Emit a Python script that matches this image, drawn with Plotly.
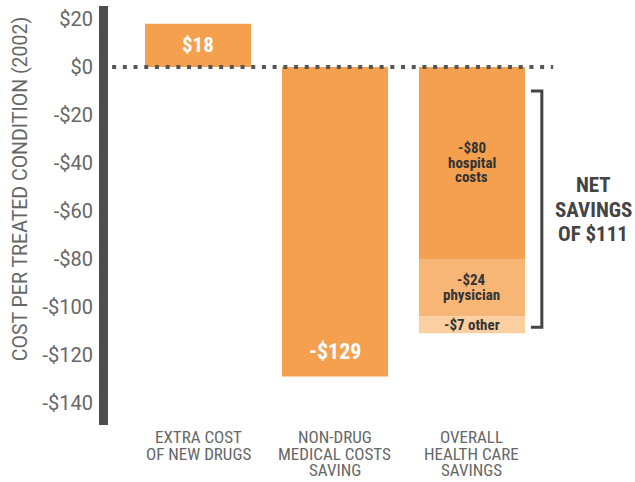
import plotly.graph_objects as go

# -----------------------------
# Data
# -----------------------------
categories = ["EXTRA COST OF NEW DRUGS",
              "NON-DRUG MEDICAL COSTS SAVING",
              "OVERALL HEALTH CARE SAVINGS"]
category_lines = [["EXTRA COST", "OF NEW DRUGS"],
                  ["NON-DRUG", "MEDICAL COSTS", "SAVING"],
                  ["OVERALL", "HEALTH CARE", "SAVINGS"]]
totals = [18, -129]
total_labels = ["$18", "-$129"]

parts = ["hospital", "physician", "other"]
part_values = [-80, -24, -7]
part_labels = [["-$80", "hospital", "costs"], ["-$24", "physician"], ["-$7 other"]]
part_colors = ["#F5A04F", "#F8B676", "#FBCF9F"]

tick_vals = [20, 0, -20, -40, -60, -80, -100, -120, -140]
tick_text = ["$20", "$0", "-$20", "-$40", "-$60", "-$80", "-$100", "-$120", "-$140"]

net_label = ["NET", "SAVINGS", "OF $111"]

NARROW = "Roboto Condensed, Liberation Sans Narrow, DejaVu Sans Condensed, sans-serif"
REGULAR = "Roboto, Liberation Sans, sans-serif"
ORANGE = "#F5A04F"
GREY = "#666666"
DARK = "#4d4d4d"

fig = go.Figure()

# main bars
fig.add_trace(go.Bar(
    x=categories[:2], y=totals,
    marker=dict(color=ORANGE, line=dict(width=0)),
    hoverinfo="skip"
))

# stacked breakdown
for name, val, col in zip(parts, part_values, part_colors):
    fig.add_trace(go.Bar(
        x=[categories[2]], y=[val], name=name,
        marker=dict(color=col, line=dict(width=0)),
        hoverinfo="skip"
    ))


def add_lines(x, y, lines, size, color, spacing, bold=True, yshift=0, yref="y"):
    # one annotation per line, so the line spacing can be as tight as the original
    n = len(lines)
    for i, t in enumerate(lines):
        off = ((n - 1) / 2 - i) * spacing
        fig.add_annotation(
            x=x, y=y, yref=yref, text=f"<b>{t}</b>" if bold else t,
            showarrow=False, yshift=off + yshift,
            xanchor="center", yanchor="middle",
            font=dict(family=NARROW, size=size, color=color)
        )


# labels on main bars
for cat, val, lab in zip(categories[:2], totals, total_labels):
    if val > 0:
        add_lines(cat, val / 2, [lab], 21, "white", 0)
    else:
        add_lines(cat, val, [lab], 22, "white", 0, yshift=25)

# labels on stacked segments
base = 0
for val, lab in zip(part_values, part_labels):
    add_lines(categories[2], base + val / 2, lab, 15, "#333333", 14.5)
    base += val

# category labels under the plot
for cat, lines in zip(categories, category_lines):
    n = len(lines)
    add_lines(cat, 0, lines, 17, GREY, 16.5, bold=False,
              yshift=-12 - (n - 1) * 16.5 / 2, yref="paper")

# net savings bracket and label
net = sum(part_values)
fig.add_shape(type="path", xref="x", yref="y",
              path=f"M 2.43 -10 L 2.51 -10 L 2.51 {net + 2.5} L 2.43 {net + 2.5}",
              line=dict(color="#444444", width=3))
add_lines(2.885, -59.6, net_label, 21, "#444444", 24.5)

# dotted zero line
fig.add_shape(type="line", xref="paper", yref="y", x0=0.008, x1=0.861, y0=0, y1=0,
              line=dict(color="#555555", width=4, dash="4px,6.7px"))

# axis title
fig.add_annotation(xref="paper", yref="paper", x=-0.17, y=0.563,
                   xanchor="center", yanchor="middle",
                   text="COST PER TREATED CONDITION (2002)", textangle=-90,
                   showarrow=False, font=dict(family=REGULAR, size=19.5, color=GREY))

fig.update_layout(
    width=635, height=482,
    margin=dict(l=108, r=10, t=6, b=57),
    barmode="relative", bargap=0.226,
    showlegend=False,
    plot_bgcolor="white", paper_bgcolor="white",
    xaxis=dict(range=[-0.657, 3.117], showgrid=False, zeroline=False, showline=False,
               ticks="", showticklabels=False, automargin=False, fixedrange=True),
    yaxis=dict(range=[-149.2, 25.4], showgrid=False, zeroline=False,
               showline=True, linewidth=9, linecolor=DARK,
               tickvals=tick_vals, ticktext=tick_text, ticks="",
               ticklabelstandoff=2, ticklabeloverflow="allow",
               tickfont=dict(family=REGULAR, size=20, color=GREY),
               automargin=False, fixedrange=True),
)

# drop the default page margin so the figure fills the window
fig.write_html("out.html", config={"displayModeBar": False},
               post_script="document.body.style.margin='0';")
